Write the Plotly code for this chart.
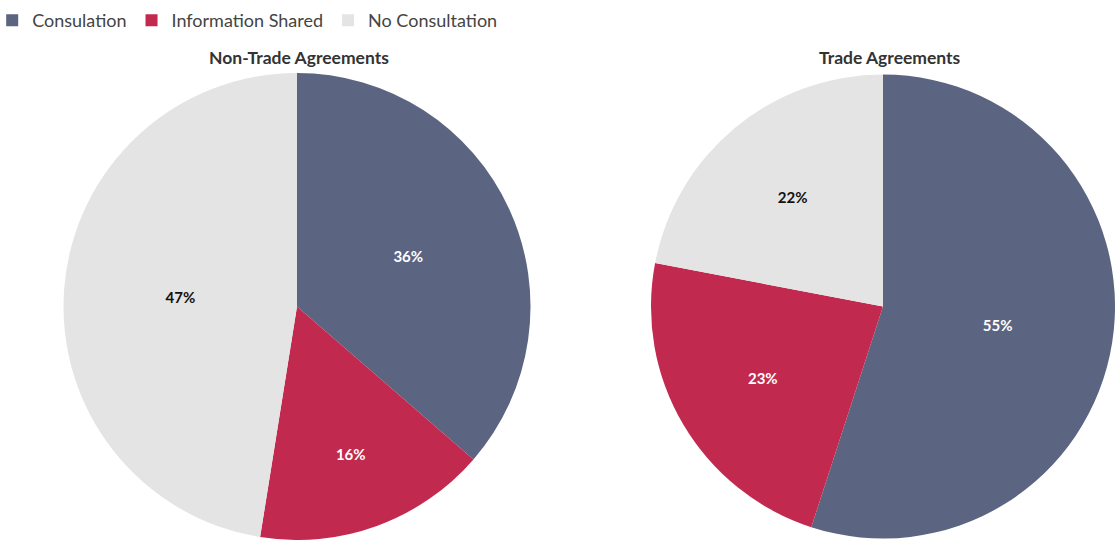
import plotly.graph_objects as go

categories = ["Consulation", "Information Shared", "No Consultation"]
non_trade_values = [36, 16, 47]
trade_values = [55, 23, 22]
chart_titles = ["Non-Trade Agreements", "Trade Agreements"]

colors = ["#5b6581", "#c2294f", "#e4e4e4"]
text_colors = ["#ffffff", "#ffffff", "#111111"]

W, H = 1115, 540
FONT = "Lato"

fig = go.Figure()
fig.add_trace(go.Pie(
    labels=categories, values=non_trade_values, sort=False, direction="clockwise", rotation=0,
    marker=dict(colors=colors, line=dict(width=0)),
    texttemplate="%{value}%", textposition="inside", insidetextorientation="horizontal",
    textfont=dict(family=FONT, size=15, color=text_colors, weight="bold"),
    domain=dict(x=[62 / W, 532 / W], y=[0, 1 - 73 / H]),
    hoverinfo="label+percent", showlegend=True,
))
fig.add_trace(go.Pie(
    labels=categories, values=trade_values, sort=False, direction="clockwise", rotation=0,
    marker=dict(colors=colors, line=dict(width=0)),
    texttemplate="%{value}%", textposition="inside", insidetextorientation="horizontal",
    textfont=dict(family=FONT, size=15, color=text_colors, weight="bold"),
    domain=dict(x=[651 / W, 1], y=[0, 1 - 73 / H]),
    hoverinfo="label+percent", showlegend=False,
))

fig.update_layout(
    width=W, height=H,
    margin=dict(l=0, r=0, t=0, b=0, autoexpand=False),
    paper_bgcolor="white", plot_bgcolor="white",
    font=dict(family=FONT, color="#444444"),
    legend=dict(orientation="h", x=-0.007, y=1 - 2 / H, xanchor="left", yanchor="top",
                font=dict(family=FONT, size=18, color="#444444"),
                itemsizing="constant", traceorder="normal"),
    annotations=[
        dict(text="<b>" + chart_titles[0] + "</b>", x=299 / W, y=1 - 58 / H, xref="paper", yref="paper",
             xanchor="center", yanchor="middle",
             showarrow=False, font=dict(family=FONT, size=17.5, color="#333333")),
        dict(text="<b>" + chart_titles[1] + "</b>", x=890 / W, y=1 - 58 / H, xref="paper", yref="paper",
             xanchor="center", yanchor="middle",
             showarrow=False, font=dict(family=FONT, size=17.5, color="#333333")),
    ],
)

fig.write_html("out.html")
